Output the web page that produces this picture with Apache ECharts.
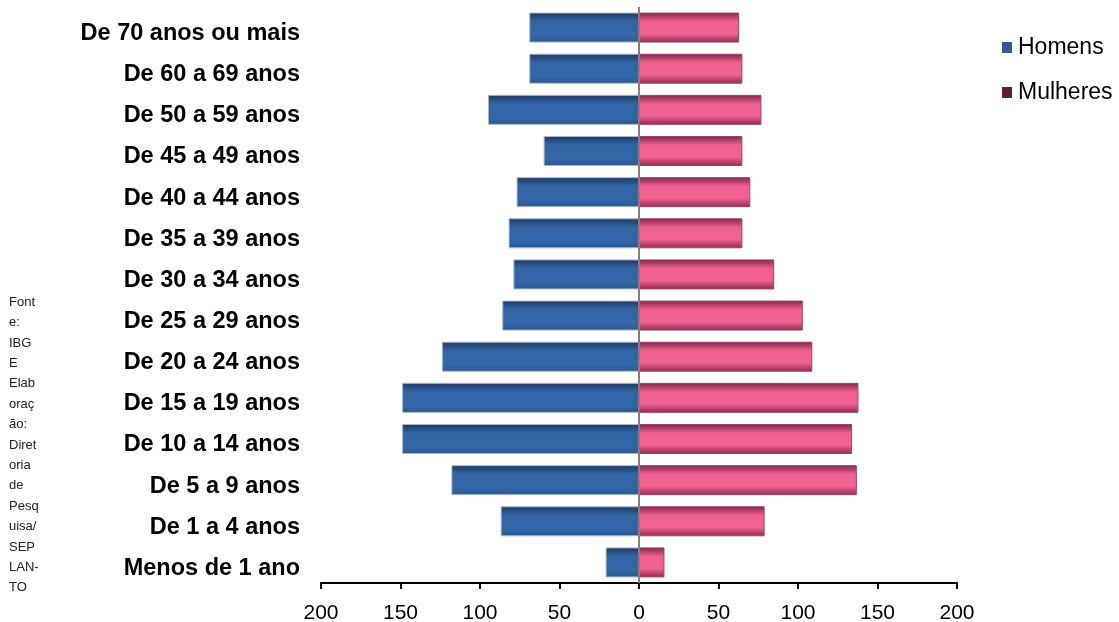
<!DOCTYPE html>
<html><head><meta charset="utf-8">
<script src="https://cdn.jsdelivr.net/npm/echarts@6/dist/echarts.min.js"></script>
<style>html,body{margin:0;padding:0;background:#fff}#c{width:1119px;height:622px}</style>
</head><body><div id="c"></div>
<script>
const categories = ['Menos de 1 ano','De 1 a 4 anos','De 5 a 9 anos','De 10 a 14 anos','De 15 a 19 anos','De 20 a 24 anos','De 25 a 29 anos','De 30 a 34 anos','De 35 a 39 anos','De 40 a 44 anos','De 45 a 49 anos','De 50 a 59 anos','De 60 a 69 anos','De 70 anos ou mais'];
const homens = [21, 87, 118, 149, 149, 124, 86, 79, 82, 77, 60, 95, 69, 69];
const mulheres = [16, 79, 137, 134, 138, 109, 103, 85, 65, 70, 65, 77, 65, 63];
const xTicks = [-200, -150, -100, -50, 0, 50, 100, 150, 200];
const sourceLines = ['Font','e:','IBG','E','Elab','oraç','ão:','Diret','oria','de','Pesq','uisa/','SEP','LAN-','TO'];

const chart = echarts.init(document.getElementById('c'));
const blueGrad = new echarts.graphic.LinearGradient(0,0,0,1,[
  {offset:0,color:'#1d3862'},{offset:0.3,color:'#3165a5'},{offset:0.75,color:'#3367a9'},{offset:1,color:'#2b5690'}]);
const pinkGrad = new echarts.graphic.LinearGradient(0,0,0,1,[
  {offset:0,color:'#7e2448'},{offset:0.3,color:'#ef6090'},{offset:0.7,color:'#f26391'},{offset:1,color:'#8e2a52'}]);
chart.setOption({
  animation:false,
  grid:{left:321,right:162,top:7,bottom:39,containLabel:false,outerBoundsMode:'none'},
  legend:{
    orient:'vertical', left:997, top:31, icon:'rect', itemWidth:10, itemHeight:11, itemGap:22,
    textStyle:{fontFamily:'Liberation Sans, Arial', fontSize:23, color:'#000', padding:[0,0,0,1]},
    data:[{name:'Homens', itemStyle:{color:'#2f5b95', borderWidth:0}},{name:'Mulheres', itemStyle:{color:'#5b1f3b', borderWidth:0}}]
  },
  xAxis:{
    type:'value', min:-200, max:200, interval:50,
    axisLine:{show:true, lineStyle:{color:'#000', width:2}},
    axisTick:{show:true, length:6, lineStyle:{color:'#000', width:2}},
    splitLine:{show:false},
    axisLabel:{formatter:v=>Math.abs(v), fontFamily:'Liberation Sans, Arial', fontSize:21, color:'#000', margin:20}
  },
  yAxis:{
    type:'category', data:categories,
    axisLine:{show:false, onZero:false}, axisTick:{show:false},
    axisLabel:{fontFamily:'Liberation Sans, Arial', fontWeight:'bold', fontSize:23.5, color:'#000', margin:21, verticalAlign:'top', lineHeight:12}
  },
  graphic:[{
    type:'text', left:9, top:292,
    style:{text:sourceLines.join('\n'), fontFamily:'Liberation Sans, Arial', fontSize:13, lineHeight:20.4, fill:'#222'}
  }],
  series:[
    {name:'Homens', type:'bar', barWidth:30, barGap:'-100%',
     data:homens.map(v=>-v),
     itemStyle:{color:blueGrad, borderColor:'#a6b6cc', borderWidth:1},
     markLine:{silent:true, symbol:'none', label:{show:false},
       lineStyle:{color:'#808080', width:2, type:'solid'},
       data:[{xAxis:0}]}
    },
    {name:'Mulheres', type:'bar', barWidth:30, barGap:'-100%',
     data:mulheres,
     itemStyle:{color:pinkGrad, borderColor:'#a04068', borderWidth:1}
    }
  ]
});
</script></body></html>
